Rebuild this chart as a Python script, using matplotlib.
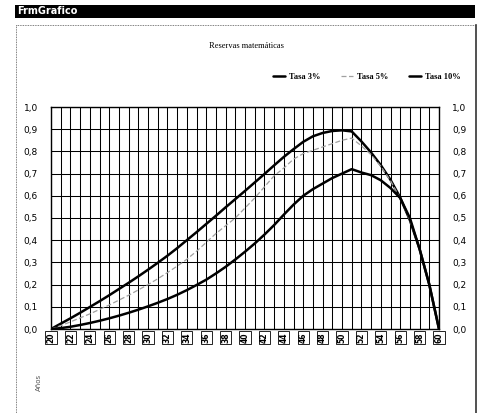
import numpy as np
import matplotlib
matplotlib.use("Agg")
import matplotlib.pyplot as plt
from matplotlib.patches import Rectangle
from matplotlib.lines import Line2D

# ages (years) and reserve values
edades = list(range(20, 61))
tasa_3 = [0.000, 0.024, 0.048, 0.073, 0.099, 0.125, 0.152, 0.180, 0.208, 0.237,
          0.267, 0.298, 0.330, 0.364, 0.400, 0.436, 0.473, 0.510, 0.548, 0.585,
          0.622, 0.660, 0.698, 0.737, 0.775, 0.810, 0.843, 0.868, 0.883, 0.892,
          0.895, 0.890, 0.845, 0.795, 0.738, 0.672, 0.592, 0.490, 0.360, 0.200,
          0.000]
tasa_5 = [0.000, 0.015, 0.032, 0.050, 0.068, 0.088, 0.108, 0.130, 0.152, 0.176,
          0.200, 0.226, 0.254, 0.283, 0.314, 0.350, 0.390, 0.430, 0.465, 0.500,
          0.545, 0.590, 0.640, 0.690, 0.725, 0.765, 0.790, 0.805, 0.820, 0.835,
          0.850, 0.860, 0.825, 0.785, 0.733, 0.668, 0.588, 0.490, 0.360, 0.200,
          0.000]
tasa_10 = [0.000, 0.004, 0.010, 0.018, 0.027, 0.037, 0.048, 0.060, 0.073, 0.087,
           0.102, 0.118, 0.135, 0.154, 0.175, 0.198, 0.222, 0.250, 0.280, 0.313,
           0.348, 0.385, 0.425, 0.468, 0.515, 0.560, 0.600, 0.630, 0.655, 0.680,
           0.700, 0.720, 0.705, 0.693, 0.670, 0.635, 0.590, 0.500, 0.360, 0.200,
           0.000]
x_ticks = list(range(20, 61, 2))
y_ticks = [i / 10 for i in range(11)]

W, H = 483, 413
fig = plt.figure(figsize=(W / 100, H / 100), dpi=100)
fig.patch.set_facecolor("white")

def fx(px):
    return px / W

def fy(py):
    return 1 - py / H

# window title bar
fig.patches.append(Rectangle((fx(15), fy(18)), fx(460), 13 / H, transform=fig.transFigure,
                             facecolor="black", edgecolor="none"))
fig.text(fx(17), fy(11.5), "FrmGrafico", color="white", fontsize=7, fontweight="bold",
         va="center", ha="left", family="DejaVu Sans")

# window frame (dotted left/top, solid right)
fig.lines.append(Line2D([fx(16), fx(475)], [fy(25), fy(25)], transform=fig.transFigure,
                        color="#555555", lw=0.6, ls=(0, (1, 1))))
fig.lines.append(Line2D([fx(16), fx(16)], [fy(25), fy(413)], transform=fig.transFigure,
                        color="#555555", lw=0.6, ls=(0, (1, 1))))
fig.lines.append(Line2D([fx(476), fx(476)], [fy(25), fy(413)], transform=fig.transFigure,
                        color="#333333", lw=1.2))

fig.text(fx(246), fy(46), "Reservas matemáticas", fontsize=6, ha="center", va="center",
         family="Liberation Serif")

ax = fig.add_axes([fx(51), fy(329), 388 / W, 222 / H])
ax.plot(edades, tasa_3, color="black", lw=1.8, label="Tasa 3%", solid_capstyle="round")
ax.plot(edades, tasa_5, color="#a0a0a0", lw=0.9, ls=(0, (4, 2)), label="Tasa 5%")
ax.plot(edades, tasa_10, color="black", lw=1.8, label="Tasa 10%", solid_capstyle="round")

ax.set_xlim(20, 60)
ax.set_ylim(0, 1)
ax.set_xticks(range(20, 61))
ax.set_xticklabels([])
ax.set_yticks(y_ticks)
ax.set_yticklabels([f"{v:.1f}".replace(".", ",") for v in y_ticks], fontsize=6.5,
                   family="DejaVu Sans")
ax.tick_params(axis="y", left=False, right=False, labelleft=True, labelright=True, pad=6)
ax.tick_params(axis="x", bottom=False)
ax.grid(True, color="black", lw=0.75)
ax.set_axisbelow(True)
for s in ax.spines.values():
    s.set_color("black")
    s.set_linewidth(1)

# boxed, rotated x labels
for e in x_ticks:
    ax.text(e, -0.015, str(e), rotation=90, ha="center", va="top", fontsize=5.5,
            fontweight="bold", family="DejaVu Sans",
            bbox=dict(boxstyle="square,pad=0.15", facecolor="white", edgecolor="black", lw=0.6))

leg = fig.legend(loc="center right", bbox_to_anchor=(fx(468), fy(77)), ncol=3, frameon=False,
                 prop={"family": "Liberation Serif", "size": 6, "weight": "bold"},
                 handlelength=1.4, columnspacing=2.5, handletextpad=0.5)

fig.text(fx(39), fy(382), "Años", rotation=90, fontsize=5, color="#555555",
         ha="center", va="center", family="DejaVu Sans")

fig.savefig("out.png", dpi=100)
